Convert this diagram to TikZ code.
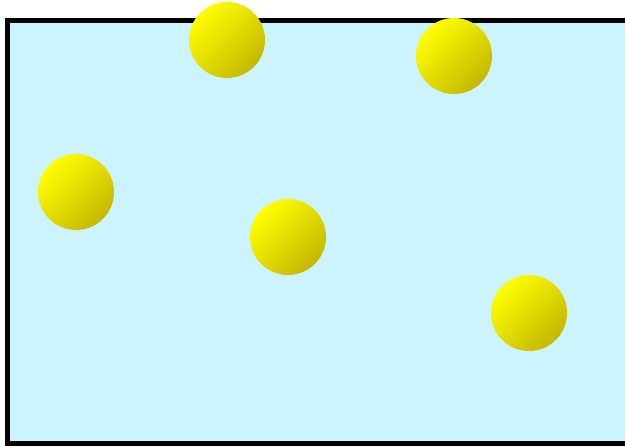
\documentclass[tikz,border=0pt]{standalone}
\usepackage{xcolor}
\usepackage{tikz}
\definecolor{water}{RGB}{204,244,255}
\definecolor{balldark}{RGB}{196,184,0}
\tikzset{ball/.style={circle,minimum size=76pt,inner sep=0pt,
    top color=yellow,bottom color=balldark,shading angle=45}}

\begin{document}
\begin{tikzpicture}[x=1pt,y=-1pt]
  \useasboundingbox (0,0) rectangle (625,446);
  \clip (0,0) rectangle (625,446);
  \draw[line width=5pt,fill=water] (7.5,20.5) rectangle (640,443.5);
  \node[ball] (b1) at (227,40) {};
  \node[ball] (b2) at (454,56) {};
  \node[ball] (b3) at (76,192) {};
  \node[ball] (b4) at (288,237) {};
  \node[ball] (b5) at (529,313) {};
\end{tikzpicture}
\end{document}
